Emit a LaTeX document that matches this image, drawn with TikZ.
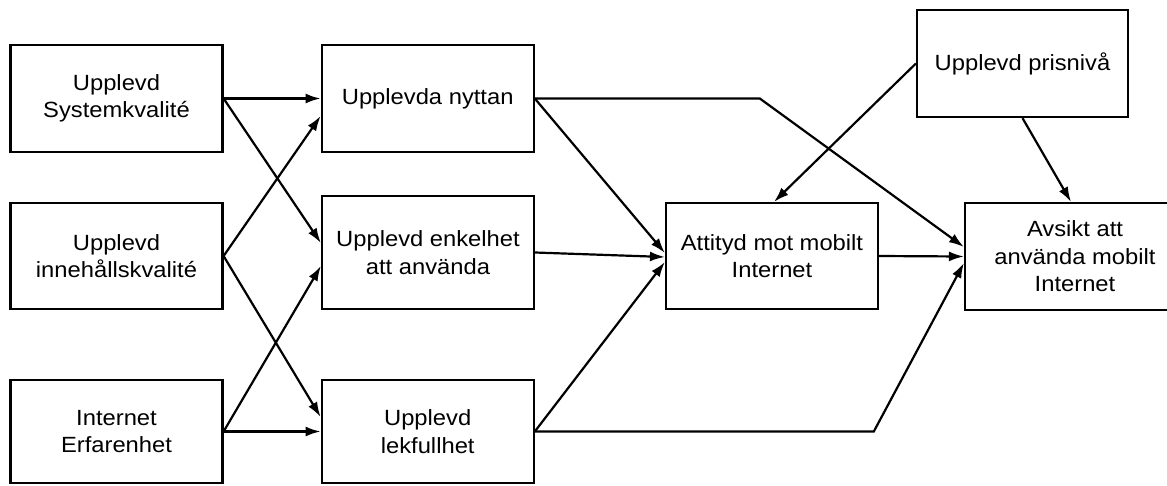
\documentclass[tikz,border=0pt]{standalone}
\usepackage{fontspec}
\setmainfont{Liberation Sans}[FakeStretch=1.08]
\usepackage{tikz}
\usetikzlibrary{arrows.meta,positioning}

\begin{document}
\begin{tikzpicture}[x=1pt,y=-1pt,node distance=97pt,>={Latex[length=15pt,width=10pt]},line width=2.2pt,
  faktor/.style={draw,line width=2.2pt,minimum width=212pt,minimum height=107pt,align=center,font=\fontsize{22}{27.5}\selectfont}]
\path[use as bounding box,fill=white] (0,0) rectangle (1167,485);
% first column
\node[faktor] (sysk) at (116.5,98.5) {Upplevd\\Systemkvalité};
\node[faktor,minimum height=106pt] (innk) at (116.5,256) {Upplevd\\innehållskvalité};
\node[faktor,minimum height=103pt] (erf) at (116.5,431.5) {Internet\\Erfarenhet};
% second column
\node[faktor,right=of sysk] (nytta) {Upplevda nyttan};
\node[faktor,minimum height=113pt] (enkel) at (428,252.5) {Upplevd enkelhet\\att använda};
\node[faktor,minimum height=103pt,right=of erf] (lek) {Upplevd\\lekfullhet};
% right part
\node[faktor,minimum height=106pt] (att) at (772,256) {Attityd mot mobilt\\Internet};
\node[faktor,minimum width=220pt] (avs) at (1075,256.5) {Avsikt att\\använda mobilt\\Internet};
\node[faktor,minimum width=211pt] (pris) at (1022.5,63.5) {Upplevd prisnivå};
\draw[->] (sysk.east) -- (nytta.west);
\draw[->] (sysk.east) -- ([yshift=9.5pt]enkel.west);
\draw[->] (innk.east) -- ([yshift=-17.5pt]nytta.west);
\draw[->] (innk.east) -- ([yshift=14.5pt]lek.west);
\draw[->] (erf.east) -- ([yshift=-13.5pt]enkel.west);
\draw[->] (erf.east) -- (lek.west);
\draw[->] (nytta.east) -- ([yshift=3pt]att.west);
\draw[->] (enkel.east) -- ([yshift=-1pt]att.west);
\draw[->] (lek.east) -- ([yshift=-6pt]att.west);
\draw[->] (nytta.east) -- ++(225,0) -- ([yshift=9.5pt]avs.west);
\draw[->] (lek.east) -- ++(339,0) -- ([yshift=-6.5pt]avs.west);
\draw[->] (att.east) -- (avs.west);
\draw[->] (pris.west) -- ([xshift=2pt]att.north);
\draw[->] (pris.south) -- ([xshift=-4pt]avs.north);
\end{tikzpicture}
\end{document}
